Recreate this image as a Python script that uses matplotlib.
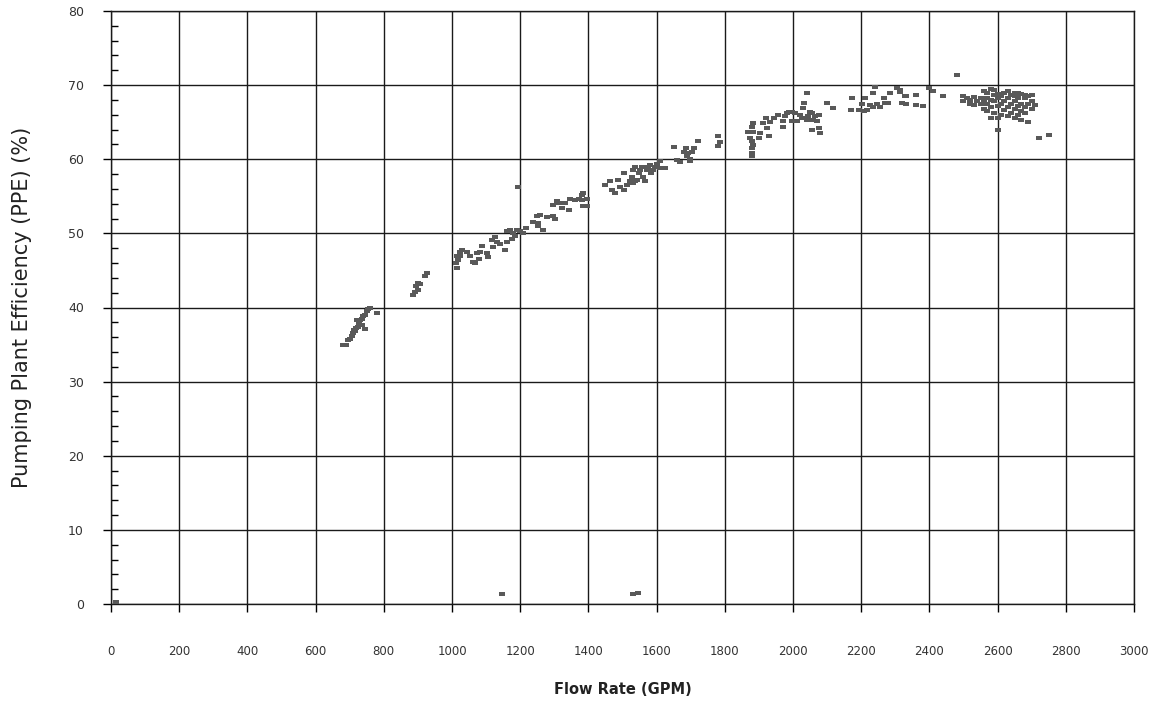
import numpy as np
import matplotlib.pyplot as plt
from matplotlib.ticker import MultipleLocator

# flow rate (GPM) and pumping plant efficiency (%)
flow_a = [681, 689, 696, 701, 706, 711, 713, 716, 719, 725, 721, 728, 730, 735, 735,
          740, 745, 745, 750, 754, 760, 779]
ppe_a = [34.9, 34.9, 35.6, 35.8, 36.1, 36.5, 36.9, 36.8, 37.2, 37.4, 38.3, 37.9, 38.3,
         37.6, 38.5, 38.8, 39.0, 37.1, 39.5, 39.8, 39.9, 39.2]

flow_b = [887, 892, 895, 899, 899, 905, 920, 927, 1195,
          1014, 1012, 1019, 1024, 1016, 1024, 1029, 1043, 1053, 1063, 1068, 1073, 1082,
          1087, 1080, 1102, 1106, 1116, 1126, 1131, 1141, 1121, 1154, 1162, 1160, 1170,
          1180, 1185, 1190, 1200, 1209, 1217, 1175, 1239, 1249, 1258, 1253, 1253, 1266,
          1278, 1296, 1302, 1297, 1307, 1315, 1322, 1332, 1342, 1346, 1361, 1371, 1381,
          1385, 1385, 1395, 1395, 1381]
ppe_b = [41.7, 42.1, 42.9, 43.3, 42.4, 43.2, 44.2, 44.7, 56.3,
         45.3, 46.0, 46.4, 46.9, 47.0, 47.5, 47.8, 47.5, 46.9, 46.2, 46.0, 47.4, 47.5,
         48.3, 46.6, 47.3, 46.8, 49.1, 49.5, 48.8, 48.6, 48.2, 47.8, 48.9, 50.3, 50.5,
         50.0, 49.6, 50.5, 50.3, 50.0, 50.7, 49.3, 51.6, 52.3, 52.5, 51.4, 51.0, 50.4,
         52.2, 52.3, 52.0, 53.8, 54.4, 54.1, 53.4, 54.1, 53.1, 54.7, 54.5, 54.7, 55.2,
         55.4, 53.7, 54.7, 53.7, 54.5]

flow_c = [1449, 1468, 1478, 1464, 1488, 1493, 1503, 1505, 1513, 1522, 1527, 1532, 1537,
          1532, 1542, 1547, 1551, 1556, 1561, 1566, 1571, 1576, 1581, 1585, 1590, 1595,
          1600, 1610, 1610, 1625, 1537, 1652, 1659, 1669, 1679, 1687, 1693, 1689, 1698,
          1698, 1703, 1711, 1720, 1781, 1787, 1781]
ppe_c = [56.5, 55.8, 55.5, 57.0, 57.2, 56.3, 55.9, 58.1, 56.5, 57.0, 57.6, 58.5, 59.0,
         56.8, 57.2, 58.1, 58.5, 59.0, 57.6, 57.0, 58.5, 59.0, 59.2, 58.1, 58.5, 59.0,
         59.4, 59.7, 58.8, 58.8, 57.0, 61.6, 59.9, 59.6, 61.0, 61.5, 60.8, 60.4, 60.1,
         59.7, 61.0, 61.5, 62.4, 63.1, 62.3, 61.8]

flow_d = [1879, 1879, 1879, 1884, 1879, 1874, 1869, 1884, 1879, 1882, 1901, 1903, 1913,
          1921, 1923, 1931, 1933, 1943, 1957, 1970, 1972, 1977, 1982, 1987, 1996, 1996,
          2006, 2011, 2020, 2025, 2033, 2030, 2042, 2040, 2045, 2050, 2055, 2055, 2060,
          2065, 2070, 2075, 2075, 2078, 2099, 2117, 2173, 2170, 2195, 2202, 2211, 2207,
          2217, 2226, 2236, 2241, 2236, 2246, 2254, 2266, 2271, 2285, 2280, 2305, 2314,
          2319, 2329, 2314]
ppe_d = [60.4, 60.9, 61.5, 61.9, 62.4, 62.8, 63.7, 63.7, 64.4, 64.9, 62.8, 63.6, 64.9,
         65.6, 64.2, 63.1, 65.0, 65.5, 66.0, 64.3, 65.2, 65.8, 66.2, 66.4, 66.4, 65.1,
         66.2, 65.1, 66.0, 65.5, 67.6, 66.9, 68.9, 65.3, 65.8, 66.4, 66.2, 63.9, 65.3,
         65.8, 65.2, 66.0, 64.2, 63.6, 67.6, 66.9, 68.3, 66.7, 66.6, 67.5, 68.2, 66.5,
         66.7, 67.3, 68.9, 69.7, 67.0, 67.5, 67.0, 68.3, 67.6, 68.9, 67.6, 69.6, 69.1,
         67.6, 68.5, 69.3]

flow_e = [2330, 2330, 2360, 2360, 2380, 2400, 2410, 2440, 2480, 2500, 2500, 2510, 2520,
          2520, 2530, 2530, 2540, 2550, 2550, 2560, 2560, 2560, 2570, 2570, 2570, 2570,
          2580, 2580, 2580, 2580, 2590, 2590, 2590, 2590, 2600, 2600, 2600, 2600, 2600,
          2610, 2610, 2610, 2620, 2620, 2620, 2630, 2630, 2630, 2630, 2640, 2640, 2640,
          2650, 2650, 2650, 2650, 2650, 2660, 2660, 2660, 2660, 2670, 2670, 2670, 2670,
          2680, 2680, 2680, 2680, 2690, 2690, 2690, 2700, 2700, 2700, 2710, 2720, 2750]
ppe_e = [67.5, 68.5, 67.3, 68.7, 67.2, 69.6, 69.2, 68.5, 71.3, 67.8, 68.6, 68.2, 67.5,
         68.0, 67.3, 68.4, 67.9, 68.2, 67.4, 66.8, 67.8, 69.2, 66.5, 67.5, 68.3, 69.0,
         65.5, 67.0, 68.0, 69.5, 66.2, 67.8, 68.7, 69.3, 64.0, 65.5, 67.2, 68.3, 68.8,
         66.0, 67.5, 68.6, 66.7, 67.8, 69.0, 65.8, 67.0, 68.2, 69.2, 66.3, 67.5, 68.7,
         65.5, 66.8, 67.8, 68.5, 69.0, 66.0, 67.2, 68.2, 68.9, 65.3, 66.5, 67.5, 68.8,
         66.2, 67.0, 68.3, 68.7, 65.0, 67.4, 68.5, 66.8, 67.8, 68.7, 67.3, 62.9, 63.3]

# low readings near zero
flow_low = [15, 1148, 1530, 1545]
ppe_low = [0.3, 1.4, 1.3, 1.5]

flow = np.concatenate([flow_a, flow_b, flow_c, flow_d, flow_e, flow_low])
ppe = np.concatenate([ppe_a, ppe_b, ppe_c, ppe_d, ppe_e, ppe_low])

fig = plt.figure(figsize=(11.5, 7.02), dpi=100)
ax = fig.add_axes([111/1150, 98/702, 1023/1150, 593/702])

dash = [(-1, -0.55), (1, -0.55), (1, 0.55), (-1, 0.55), (-1, -0.55)]
ax.plot(flow, ppe, linestyle='none', marker=dash, markersize=4.4,
        color='#595959', markeredgewidth=0, zorder=3)

ax.set_xlim(0, 3000)
ax.set_ylim(0, 80)
ax.xaxis.set_major_locator(MultipleLocator(200))
ax.yaxis.set_major_locator(MultipleLocator(10))
ax.yaxis.set_minor_locator(MultipleLocator(2))

ax.grid(True, which='major', color='#1a1a1a', linewidth=1.0)
ax.set_axisbelow(True)
for s in ax.spines.values():
    s.set_color('#1a1a1a')
    s.set_linewidth(1.0)

ax.tick_params(axis='x', which='major', direction='out', length=5.5, width=1.0,
               pad=24, labelsize=8.5, labelcolor='#333333')
ax.tick_params(axis='y', which='major', direction='out', length=5.5, width=1.0,
               pad=14, labelsize=9, labelcolor='#333333')
ax.tick_params(axis='y', which='minor', direction='in', length=5, width=1.0)

ax.set_xlabel('Flow Rate (GPM)', fontsize=10.5, fontweight='bold', labelpad=17,
              color='#222222')
ax.set_ylabel('Pumping Plant Efficiency (PPE) (%)', fontsize=15, labelpad=26,
              color='#222222')

fig.savefig('out.png', dpi=100)
